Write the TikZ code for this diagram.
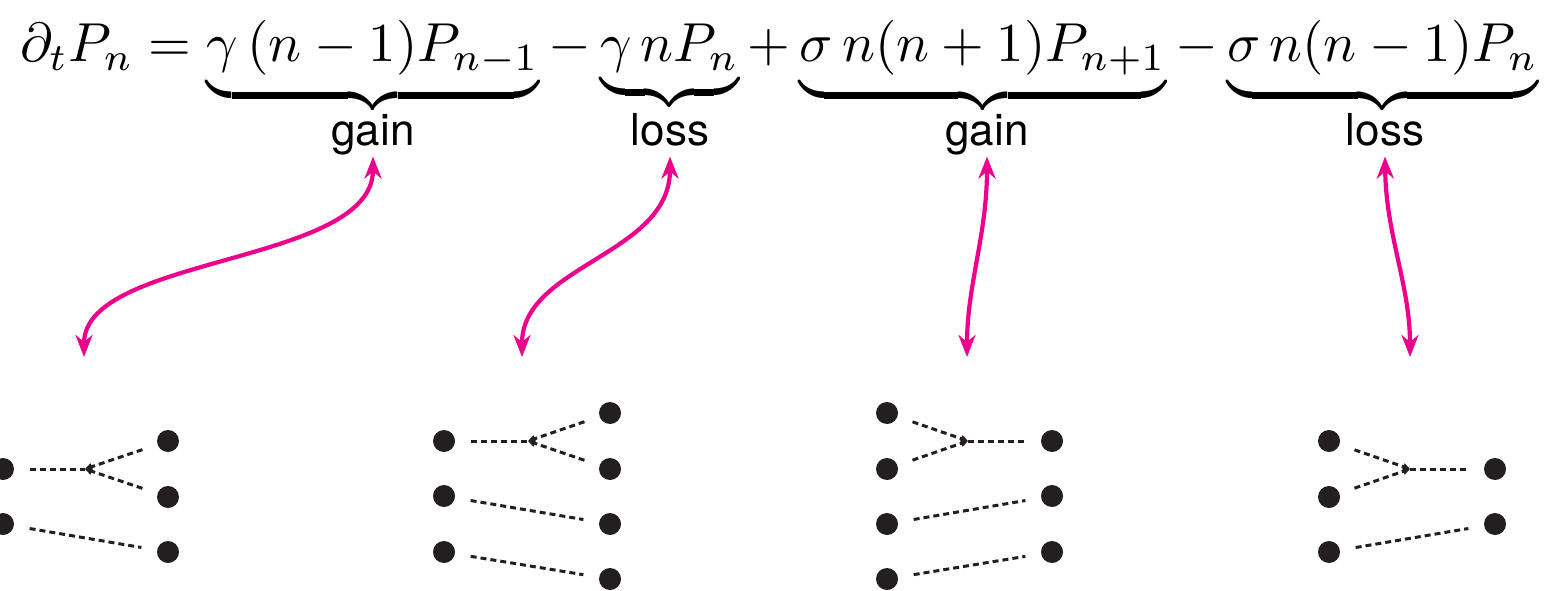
\documentclass[tikz,border=0pt]{standalone}
\usepackage{fontspec}
\newfontfamily\labfont{TeX Gyre Heros}
\usetikzlibrary{arrows.meta}
\definecolor{pink}{HTML}{EC008C}
\definecolor{dotc}{HTML}{231F20}
\begin{document}
\begin{tikzpicture}[x=1pt,y=-1pt,
  dot/.style={circle,fill=dotc,minimum size=22pt,inner sep=0pt,outer sep=16pt},
  dline/.style={draw=dotc,line width=3pt,dash pattern=on 6pt off 4pt},
  jtip/.style={-{Triangle[length=7pt,width=7pt]}},
  lab/.style={font=\labfont\fontsize{44}{48}\selectfont,inner sep=0pt,text depth=0.25em,outer sep=8pt,anchor=base},
  parrow/.style={draw=pink,line width=4.2pt,{Stealth[length=22pt,width=17pt,inset=7pt]}-{Stealth[length=22pt,width=17pt,inset=7pt]}}]
\useasboundingbox (0,0) rectangle (1552,591);
% equation
\node[anchor=base,inner sep=0pt,scale=5.49,transform shape] (eq) at (779,62) {$\displaystyle
\partial_t P_n = \underbrace{\gamma\,(n-1)P_{n-1}} - \underbrace{\gamma\,nP_n} + \underbrace{\sigma\,n(n+1)P_{n+1}} - \underbrace{\sigma\,n(n-1)P_n}$};
% labels
\node[lab] (l1) at (373,146) {gain};
\node[lab] (l2) at (670,146) {loss};
\node[lab] (l3) at (987,146) {gain};
\node[lab] (l4) at (1385,146) {loss};
% arrow ends
\coordinate (p1) at (84,357);
\coordinate (p2) at (522,357);
\coordinate (p3) at (967,357);
\coordinate (p4) at (1410,357);
\draw[parrow] (l1.south) .. controls (373,265) and (84,255) .. (p1);
\draw[parrow] (l2.south) .. controls (670,255) and (522,265) .. (p2);
\draw[parrow] (l3.south) .. controls (987,235) and (967,285) .. (p3);
\draw[parrow] (l4.south) .. controls (1386,235) and (1410,285) .. (p4);
% panel 1
\node[dot] (a1) at (3,469) {};
\node[dot] (a2) at (3,524) {};
\node[dot] (b1) at (168,441) {};
\node[dot] (b2) at (168,497) {};
\node[dot] (b3) at (168,552) {};
\coordinate (j1) at (85,469);
\draw[dline] (a1) -- (j1);
\draw[dline,jtip] (b1) -- (j1);
\draw[dline,jtip] (b2) -- (j1);
\draw[dline] (a2) -- (b3);
% panel 2
\node[dot] (c1) at (444,441) {};
\node[dot] (c2) at (444,496) {};
\node[dot] (c3) at (444,552) {};
\node[dot] (d1) at (610,413) {};
\node[dot] (d2) at (610,469) {};
\node[dot] (d3) at (610,524) {};
\node[dot] (d4) at (610,579) {};
\coordinate (j2) at (528,441);
\draw[dline] (c1) -- (j2);
\draw[dline,jtip] (d1) -- (j2);
\draw[dline,jtip] (d2) -- (j2);
\draw[dline] (c2) -- (d3);
\draw[dline] (c3) -- (d4);
% panel 3
\node[dot] (e1) at (887,413) {};
\node[dot] (e2) at (887,469) {};
\node[dot] (e3) at (887,524) {};
\node[dot] (e4) at (887,579) {};
\node[dot] (f1) at (1052,441) {};
\node[dot] (f2) at (1052,496) {};
\node[dot] (f3) at (1052,552) {};
\coordinate (j3) at (968,441);
\draw[dline,jtip] (e1) -- (j3);
\draw[dline,jtip] (e2) -- (j3);
\draw[dline] (j3) -- (f1);
\draw[dline] (e3) -- (f2);
\draw[dline] (e4) -- (f3);
% panel 4
\node[dot] (g1) at (1329,441) {};
\node[dot] (g2) at (1329,497) {};
\node[dot] (g3) at (1329,552) {};
\node[dot] (h1) at (1495,469) {};
\node[dot] (h2) at (1495,524) {};
\coordinate (j4) at (1410,469);
\draw[dline,jtip] (g1) -- (j4);
\draw[dline,jtip] (g2) -- (j4);
\draw[dline] (j4) -- (h1);
\draw[dline] (g3) -- (h2);
\end{tikzpicture}
\end{document}
